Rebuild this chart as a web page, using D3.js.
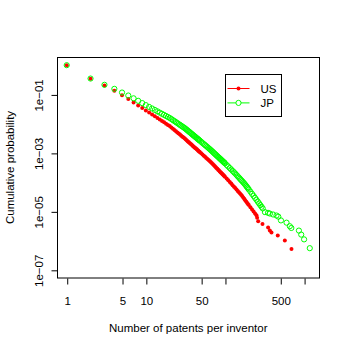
<!DOCTYPE html>
<html>
<head>
<meta charset="utf-8">
<script src="https://cdn.jsdelivr.net/npm/d3@7"></script>
<style>
  body { margin: 0; background: #fff; }
  #chart { width: 350px; height: 350px; }
  text { font-family: "Liberation Sans", Arial, sans-serif; font-size: 11.5px; fill: #000; }
</style>
</head>
<body>
<div id="chart"></div>
<script>
// number of patents per inventor (x) and cumulative probability (y)
const usN = [1, 2, 3, 4, 5, 6, 7, 8, 9, 10, 11, 12, 13, 14, 15, 16, 17, 18, 19, 20,
    21, 22, 23, 24, 25, 26, 27, 28, 29, 30, 31, 32, 33, 34, 35, 36, 37, 38, 39, 40,
    41, 42, 43, 44, 45, 46, 47, 48,
    50, 52, 54, 56, 58, 60, 62, 64, 66, 68, 70, 72, 74, 76, 78, 80, 82, 84, 86, 88,
    90, 92, 94, 96, 98, 100,
    105, 110, 115, 120, 125, 130, 135, 140, 145, 150, 155, 160, 165, 170, 175, 180,
    185, 190, 195, 200, 210, 220, 230, 240, 250,
    255, 263, 298, 351, 369, 387, 465, 571, 693];
const usP = [1, 0.345, 0.203, 0.134, 0.0932, 0.0691, 0.0533, 0.0421, 0.0343, 0.0284,
    0.0239, 0.0206, 0.0179, 0.0156, 0.0138, 0.0123, 0.0111, 0.00998, 0.00906, 0.00826,
    0.00743, 0.00669, 0.00605, 0.0055, 0.00502, 0.00459, 0.00422, 0.00388, 0.00359, 0.00333,
    0.00309, 0.00286, 0.00266, 0.00247, 0.0023, 0.00215, 0.00201, 0.00188, 0.00177, 0.00166,
    0.00157, 0.00148, 0.0014, 0.00132, 0.00125, 0.00118, 0.00112, 0.00107,
    0.000967, 0.000879, 0.000802, 0.000734, 0.000674, 0.00062, 0.000573, 0.00053, 0.000488, 0.000449,
    0.000414, 0.000383, 0.000354, 0.000329, 0.000306, 0.000285, 0.000266, 0.000249, 0.000233, 0.000218,
    0.000205, 0.000193, 0.000182, 0.000171, 0.000162, 0.000153,
    0.000132, 0.000115, 0.000101, 8.88e-5, 7.87e-5, 7.0e-5, 6.25e-5, 5.59e-5, 5.01e-5, 4.51e-5,
    4.08e-5, 3.7e-5, 3.34e-5, 2.99e-5, 2.69e-5, 2.42e-5, 2.18e-5, 1.98e-5, 1.8e-5, 1.64e-5,
    1.37e-5, 1.16e-5, 9.85e-6, 8.45e-6, 7.29e-6,
    6.0e-6, 4.6e-6, 3.7e-6, 2.8e-6, 2.2e-6, 1.9e-6, 1.5e-6, 1.0e-6, 5.2e-7];

const jpN = [1, 2, 3, 4, 5, 6, 7, 8, 9, 10, 11, 12, 13, 14, 15, 16, 17, 18, 19, 20,
    21, 22, 23, 24, 25, 26, 27, 28, 29, 30, 31, 32, 33, 34, 35, 36, 37, 38, 39, 40,
    41, 42, 43, 44, 45, 46, 47, 48,
    50, 52, 54, 56, 58, 60, 62, 64, 66, 68, 70, 72, 74, 76, 78, 80, 82, 84, 86, 88,
    90, 92, 94, 96, 98, 100,
    105, 110, 115, 120, 125, 130, 135, 140, 145, 150, 155, 160, 165, 170, 175, 180,
    185, 190, 195, 200, 210, 220, 230, 240, 250, 260, 270, 280, 290, 300,
    320, 350, 370, 406, 448, 472, 510, 600, 660, 690, 860, 920, 1000, 1180];
const jpP = [1, 0.349, 0.213, 0.155, 0.116, 0.0917, 0.0736, 0.0605, 0.0505, 0.0431,
    0.0374, 0.033, 0.0294, 0.0264, 0.0238, 0.0217, 0.0199, 0.0183, 0.0169, 0.0157,
    0.0144, 0.0132, 0.0122, 0.0113, 0.01045, 0.00972, 0.00907, 0.00848, 0.00795, 0.00747,
    0.00703, 0.00657, 0.00613, 0.00573, 0.00536, 0.00504, 0.00473, 0.00446, 0.00421, 0.00397,
    0.00376, 0.00356, 0.00338, 0.0032, 0.00305, 0.0029, 0.00276, 0.00263,
    0.0024, 0.00219, 0.00201, 0.00185, 0.00171, 0.00158, 0.00146, 0.00136, 0.00126, 0.00117,
    0.00109, 0.00101, 0.000945, 0.000883, 0.000827, 0.000775, 0.000729, 0.000686, 0.000646, 0.00061,
    0.000576, 0.000545, 0.000516, 0.00049, 0.000465, 0.000442,
    0.000387, 0.000341, 0.000303, 0.00027, 0.000242, 0.000217, 0.000196, 0.000176, 0.000158, 0.000143,
    0.00013, 0.000118, 0.000108, 9.86e-5, 9.05e-5, 8.26e-5, 7.48e-5, 6.78e-5, 6.17e-5, 5.63e-5,
    4.71e-5, 3.97e-5, 3.38e-5, 2.89e-5, 2.49e-5, 2.15e-5, 1.87e-5, 1.63e-5, 1.43e-5, 1.26e-5,
    9.4e-6, 8.9e-6, 8.4e-6, 7.8e-6, 7.2e-6, 6.6e-6, 4.9e-6, 4.1e-6, 3.1e-6, 2.7e-6,
    2.2e-6, 1.6e-6, 1.1e-6, 5.5e-7];

// axis ticks
const xTicks = [1, 5, 10, 50, 100, 500, 1000];
const xTickLabels = ["1", "5", "10", "50", "", "500", ""];
const yTicks = [1e-7, 1e-5, 1e-3, 1e-1];
const yTickLabels = ["1e\u221207", "1e\u221205", "1e\u221203", "1e\u221201"];
const yLimits = [1e-7, 1];

const seriesNames = ["US", "JP"];
const seriesColors = ["#ff0000", "#00ff00"];

const width = 350, height = 350;
const margin = { top: 57, left: 57, right: 30.5, bottom: 72 };

const svg = d3.select("#chart")
    .append("svg")
    .attr("width", width)
    .attr("height", height);

// R style 4% extension of the range on a log axis
function extendLog(ext) {
    const a = Math.log10(ext[0]), b = Math.log10(ext[1]);
    const pad = (b - a) * 0.04;
    return [Math.pow(10, a - pad), Math.pow(10, b + pad)];
}

const us = usN.map((n, i) => ({ n: n, p: usP[i] }));
const jp = jpN.map((n, i) => ({ n: n, p: jpP[i] }));

const xScale = d3.scaleLog()
    .domain(extendLog(d3.extent(usN.concat(jpN))))
    .range([margin.left, width - margin.right]);

const yScale = d3.scaleLog()
    .domain(extendLog(yLimits))
    .range([height - margin.bottom, margin.top]);

// points: US filled dots, JP open circles
svg.append("g")
    .selectAll("circle")
    .data(us)
    .join("circle")
    .attr("cx", d => xScale(d.n))
    .attr("cy", d => yScale(d.p))
    .attr("r", 2)
    .attr("fill", seriesColors[0]);

svg.append("g")
    .selectAll("circle")
    .data(jp)
    .join("circle")
    .attr("cx", d => xScale(d.n))
    .attr("cy", d => yScale(d.p))
    .attr("r", 2.6)
    .attr("fill", "none")
    .attr("stroke", seriesColors[1])
    .attr("stroke-width", 1);

// box
svg.append("rect")
    .attr("x", margin.left + 0.5)
    .attr("y", margin.top + 0.5)
    .attr("width", width - margin.right - margin.left - 0.5)
    .attr("height", height - margin.bottom - margin.top - 0.5)
    .attr("fill", "none")
    .attr("stroke", "#000");

// axes
const xAxis = svg.append("g")
    .attr("transform", `translate(0.5,${height - margin.bottom + 0.5})`)
    .call(d3.axisBottom(xScale)
        .tickValues(xTicks)
        .tickFormat((d, i) => xTickLabels[i])
        .tickSizeOuter(0)
        .tickSize(6)
        .tickPadding(12));
xAxis.select(".domain").remove();
xAxis.selectAll("text").style("font-size", "11.5px").attr("font-family", null);

const yAxis = svg.append("g")
    .attr("transform", `translate(${margin.left + 0.5},0.5)`)
    .call(d3.axisLeft(yScale)
        .tickValues(yTicks)
        .tickFormat((d, i) => yTickLabels[i])
        .tickSizeOuter(0)
        .tickSize(6));
yAxis.select(".domain").remove();
yAxis.selectAll("text")
    .attr("transform", "rotate(-90)")
    .attr("x", 0)
    .attr("y", -15)
    .attr("dy", null)
    .attr("text-anchor", "middle")
    .style("font-size", "11.5px")
    .attr("font-family", null);

// axis titles
svg.append("text")
    .attr("x", (margin.left + width - margin.right) / 2)
    .attr("y", 332)
    .attr("text-anchor", "middle")
    .text("Number of patents per inventor");

svg.append("text")
    .attr("transform", "rotate(-90)")
    .attr("x", -(margin.top + height - margin.bottom) / 2)
    .attr("y", 14)
    .attr("text-anchor", "middle")
    .text("Cumulative probability");

// legend
const legend = svg.append("g").attr("transform", "translate(225.5,74.5)");
legend.append("rect")
    .attr("width", 56)
    .attr("height", 42)
    .attr("fill", "#fff")
    .attr("stroke", "#000");

seriesNames.forEach((name, i) => {
    const y = 14 + i * 14.4;
    legend.append("line")
        .attr("x1", 2).attr("x2", 24)
        .attr("y1", y).attr("y2", y)
        .attr("stroke", seriesColors[i]);
    legend.append("circle")
        .attr("cx", 13).attr("cy", y)
        .attr("r", i === 0 ? 2 : 2.6)
        .attr("fill", i === 0 ? seriesColors[i] : "#fff")
        .attr("stroke", i === 0 ? "none" : seriesColors[i]);
    legend.append("text")
        .attr("x", 35)
        .attr("y", y + 4)
        .text(name);
});
</script>
</body>
</html>
